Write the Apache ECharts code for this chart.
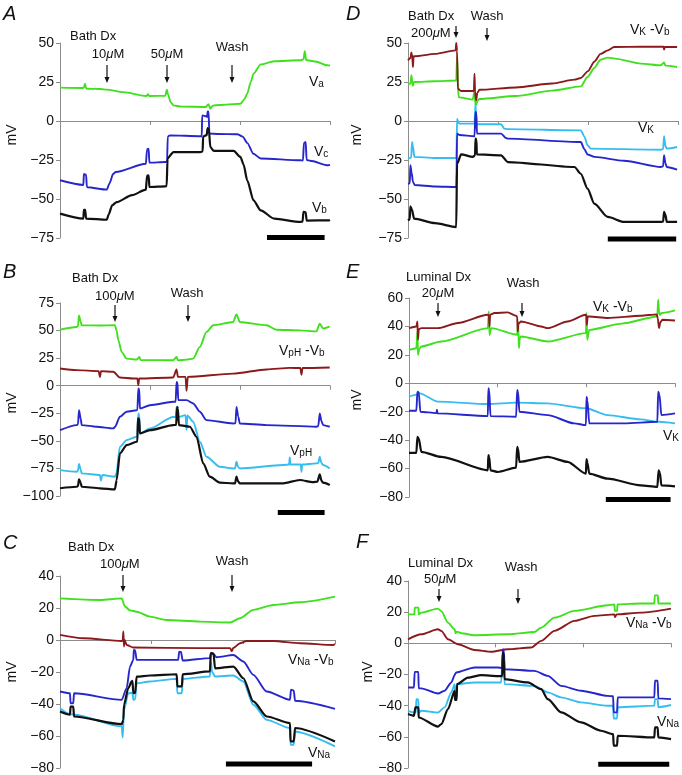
<!DOCTYPE html>
<html><head><meta charset="utf-8">
<script src="https://cdn.jsdelivr.net/npm/echarts@6/dist/echarts.min.js"></script>
<style>html,body{margin:0;padding:0;background:#fff}#c{width:682px;height:775px}</style>
</head><body><div id="c"></div>
<script>
// ---------- Panel A ----------
const A_Va = [[0,21.4],[2.5,21.2],[2.65,21.4],[2.78,23.9],[2.9,21],[3.0,20.7],[4.5,20.5],[5.2,20.1],[7,18.5],[9.6,16.0],[9.77,17.1],[9.9,16],[11.7,16.2],[11.88,20.1],[12.0,17],[12.3,12],[12.6,10],[13.5,9.2],[16.2,9.0],[16.5,10.7],[16.7,7.9],[16.9,9.5],[17.1,10],[18.5,10.5],[20.05,11.1],[20.5,14],[20.8,17.5],[21.2,25],[21.5,30.3],[22.3,36.3],[23.8,38.3],[26.7,38.9],[27.05,39.5],[27.2,44.7],[27.35,39],[27.5,38.9],[28.5,38],[29.7,35.7],[30,35.5]];
const A_Vc = [[0,-38],[2.6,-41],[2.65,-34],[2.9,-34.5],[2.98,-42],[3.04,-42.5],[5.2,-44],[5.5,-40],[5.9,-34],[6.2,-32.7],[9.55,-27.4],[9.6,-27.3],[9.67,-18],[9.85,-17.7],[9.93,-26.7],[11.7,-26.3],[11.9,-26],[11.97,-10],[12.2,-9.2],[15.6,-9.8],[15.75,-9.9],[15.8,3.6],[16.3,3.0],[16.35,2.5],[16.4,6.2],[16.5,6.2],[16.6,-8.1],[17.5,-8.3],[19.7,-8.5],[20.3,-10],[20.8,-14],[21.5,-21],[22.3,-24],[26.7,-25.2],[27.0,-25.3],[27.1,-14],[27.3,-13.5],[27.4,-25],[27.8,-25.5],[29.8,-28.4],[30,-28]];
const A_Vb = [[0,-59.4],[2.6,-62.6],[2.65,-57],[2.8,-57],[2.9,-62.6],[5.2,-63.3],[5.4,-60],[5.8,-54],[6.3,-52],[8,-47.5],[9.55,-44],[9.6,-44],[9.67,-35],[9.85,-34.8],[9.93,-42.3],[11.7,-41.9],[11.85,-41.8],[11.95,-24],[12.6,-19.9],[15.6,-19.9],[15.85,-19.5],[15.9,-10],[16.3,-9],[16.4,-4.5],[16.55,-6],[16.7,-16.7],[17.1,-19.2],[19.3,-19.2],[20.05,-23],[20.4,-28],[20.8,-38],[21.5,-50.9],[22.3,-57.3],[23.8,-62.6],[26.7,-64.7],[26.95,-64.5],[27.05,-58.3],[27.3,-58.5],[27.4,-63.8],[29.9,-63.7],[30,-63.5]];
const A_bar = [[23,-74.6],[29.4,-74.6]];
// ---------- Panel D ----------
const D_VKVb = [[0,38.9],[0.3,40.5],[0.37,44],[0.48,41],[0.55,34.6],[0.62,41.5],[0.74,41.5],[3,43],[5.3,45.3],[5.36,50],[5.45,45],[5.54,20.7],[5.91,19.2],[7.32,19.2],[7.39,30.3],[7.45,19],[7.57,13.2],[7.7,18],[7.94,20],[12,21.5],[16,24],[18.5,26.5],[19.2,27.6],[20,32],[20.7,38],[21.4,43],[22.2,45.3],[22.9,47.4],[26,47.6],[28.4,47.6],[28.45,45.8],[28.55,47.4],[29.9,47.4]];
const D_green = [[0,23.9],[0.3,24],[0.37,29.3],[0.48,25],[0.55,22.5],[0.65,25],[0.74,25],[3,25.5],[5.36,26],[5.45,41],[5.54,25],[5.62,15.4],[5.9,15],[7.2,13.7],[7.39,19.5],[7.5,10],[7.57,10.5],[7.76,13.2],[7.94,14.1],[12,16],[16,19.5],[19.2,22.2],[19.95,28.2],[20.7,34],[21.4,39.3],[22.2,40.6],[23,40],[25.9,36.8],[28.1,35.7],[28.45,37.5],[28.6,35.5],[29.9,34.6]];
const D_VK = [[0,-24.1],[0.35,-23.5],[0.45,-13.5],[0.55,-16],[0.7,-23],[3,-23.7],[5.38,-23.7],[5.45,1.5],[5.6,-1],[5.73,-1.7],[7.39,-1.7],[7.5,11],[7.6,-2],[7.76,-2.1],[10.35,-2.1],[10.7,-4.9],[11.09,-5.2],[19.2,-6],[19.6,-10],[19.95,-15.5],[20.3,-17.7],[28.1,-18.4],[28.35,-18],[28.45,-9.8],[28.6,-16],[28.75,-17.7],[29.9,-16.7]];
const D_blue = [[0,-40.2],[0.2,-40],[0.26,-28.4],[0.4,-33],[0.55,-39],[0.74,-41],[3,-42],[5.38,-42.3],[5.45,-8.1],[5.73,-9],[7.39,-9.8],[7.5,5.8],[7.6,5],[7.66,-8.1],[10.35,-8.1],[10.9,-10.9],[11.09,-11.3],[19.2,-13.5],[19.6,-18],[19.95,-21.5],[20.7,-23],[24,-25.5],[28.1,-29.5],[28.35,-29],[28.45,-22],[28.6,-27],[28.75,-29.5],[29.9,-31.2]];
const D_Vb = [[0,-63.7],[0.2,-63],[0.26,-54.7],[0.45,-57],[0.67,-62.6],[3,-65.5],[5.36,-68],[5.45,-27.4],[5.91,-21.4],[7.2,-23],[7.45,-22],[7.5,-11.3],[7.6,-12],[7.65,-21.4],[10.35,-22],[11.09,-26.3],[18.5,-29.5],[19.2,-33.8],[19.95,-43.4],[20.7,-53],[22.2,-61.5],[24,-64.7],[28.1,-64.7],[28.35,-64.5],[28.45,-58.3],[28.6,-60],[28.75,-64.7],[29.9,-64.7]];
const D_bar = [[22.2,-75.6],[29.8,-75.6]];
// ---------- Panel B ----------
const B_green = [[0,50.8],[1.85,53.3],[2.0,54],[2.11,63.8],[2.3,58],[2.41,54.8],[4.44,54.6],[6.1,54.8],[6.29,50],[6.48,41.2],[6.85,30.7],[7.4,24.6],[8.51,23.7],[8.81,26],[8.95,23.3],[12.58,23.1],[12.95,26],[13.1,23],[14.06,23.7],[14.8,24.6],[15.54,35.2],[16.28,48.8],[17.02,54.8],[19.24,57.8],[19.61,64.7],[19.98,57.8],[22.94,54.8],[24.05,50.8],[26.64,50.2],[28.49,49.3],[28.86,56.3],[29.23,52],[29.97,53.9]];
const B_VpHVb = [[0,15.6],[1.85,14.1],[4.3,13.2],[4.44,8],[4.55,13.2],[5.92,12.6],[6.66,7.4],[8.14,6.5],[8.6,6.5],[8.7,0.5],[8.8,6.5],[12.58,7.5],[12.95,14.7],[13.1,8],[13.95,8],[14.06,-4.6],[14.2,8],[19.24,11],[22.94,14.7],[25.53,16.2],[26.7,16],[26.83,10],[26.95,16],[29.97,16.5]];
const B_blue = [[0,-40.3],[1.85,-35.7],[2.0,-35],[2.11,-22.2],[2.3,-30],[2.41,-35.7],[4.07,-37.2],[5.92,-38.7],[6.1,-37.5],[6.66,-28.2],[7.4,-23.6],[8.51,-22.2],[8.6,-22],[8.7,-2.5],[8.8,-3],[8.88,-20.7],[9.99,-17.7],[12.58,-14.6],[12.85,-14.5],[12.95,3.5],[13.05,3],[13.14,-13.1],[14.06,-13.1],[14.8,-16.1],[15.54,-23.6],[16.28,-31.2],[19.24,-34.2],[19.5,-34],[19.61,-19.2],[19.8,-28],[19.98,-34.2],[22.94,-35.7],[28.49,-37.2],[28.7,-36.5],[28.86,-25.2],[29.05,-32],[29.23,-35.7],[29.97,-37.2]];
const B_VpH = [[0,-76.5],[1.85,-78],[2.0,-77],[2.11,-71],[2.3,-76],[2.41,-79.5],[4.44,-81],[4.55,-86],[4.7,-81],[6.1,-82.5],[6.25,-80],[6.66,-55.4],[7.4,-49.3],[8.51,-46.3],[8.6,-46],[8.7,-25.2],[8.8,-26],[8.88,-43.3],[9.99,-38.7],[12.58,-28.4],[12.85,-28.3],[12.95,-19.2],[13.05,-22],[13.14,-28.4],[13.95,-26.7],[14.06,-40],[14.15,-27],[14.8,-32.7],[15.54,-50.8],[16.28,-64.4],[17.76,-73.5],[19.24,-75],[19.45,-75],[19.61,-69],[19.8,-74],[19.98,-75],[24.79,-71.9],[25.45,-71.5],[25.53,-65],[25.6,-71.5],[26.75,-71.5],[26.83,-78],[26.9,-71.5],[28.49,-70.4],[28.7,-70],[28.86,-64.4],[29.05,-70],[29.23,-71.9],[29.97,-75]];
const B_Vb = [[0,-93],[1.85,-91.6],[2.0,-91],[2.11,-84.9],[2.3,-88],[2.41,-91.6],[4.44,-93],[6.1,-94],[6.29,-85.5],[6.66,-61.4],[7.4,-53.8],[8.51,-50.8],[8.6,-50.5],[8.65,-29.7],[8.8,-30],[8.88,-43.3],[9.99,-40.3],[12.58,-35.7],[12.9,-35.5],[13.02,-19.2],[13.1,-21],[13.21,-35.7],[14.43,-37.2],[15.17,-46.3],[15.91,-70.4],[16.65,-82.5],[17.76,-87.9],[19.24,-88.5],[19.45,-88.5],[19.61,-82.5],[19.8,-87],[19.98,-88.5],[24.79,-88.5],[26.64,-85.5],[28.12,-87.5],[28.6,-87],[28.86,-80.4],[29.05,-86],[29.23,-87.9],[29.97,-90]];
const B_bar = [[24.2,-115],[29.4,-115]];
// ---------- Panel E ----------
const E_VKVb = [[0,38.8],[0.83,40],[0.95,43.5],[1.01,30.6],[1.1,38],[1.39,38.8],[3.26,38.8],[5.51,42.4],[8.89,48.2],[9.0,48],[9.08,40],[9.15,48.2],[9.64,49.4],[11.14,49.9],[12.08,47.5],[12.2,47],[12.26,36.5],[12.35,42],[12.64,43.5],[14.89,40],[15.64,38.8],[17.89,43.5],[19.95,48.2],[20.0,47],[20.06,41],[20.15,47],[20.33,47],[22.39,45.9],[26.14,47.5],[27.94,48.5],[28.05,46],[28.2,38.8],[28.35,43],[28.58,44.7],[30,44.2]];
const E_green = [[0,23.5],[0.83,24.7],[0.95,36.5],[1.01,20],[1.15,24],[1.39,25.9],[3.64,29.4],[8.89,38.8],[9.0,50.6],[9.08,34],[9.26,38.8],[12.2,34.1],[12.3,43.5],[12.4,24.7],[12.5,32],[12.64,32.9],[15.64,29.4],[19.95,35.3],[20.02,49.4],[20.1,30.6],[20.33,37.6],[24,42],[28.01,47],[28.1,58.8],[28.2,50],[28.3,48],[28.46,49.4],[30,51.3]];
const E_VK = [[0,-9.4],[0.9,-8],[1.01,-6],[1.2,-7.1],[3.26,-12.9],[8.89,-14.6],[12.08,-13.6],[15.64,-14.1],[19.95,-17.6],[22.39,-22.4],[26.14,-25.4],[28.2,-27.1],[30,-28.2]];
const E_blue = [[0,-19.3],[0.83,-19.3],[0.95,-6],[1.1,-6.5],[1.28,-20],[3.1,-21],[3.15,-18.5],[3.22,-21.2],[8.89,-23.1],[8.95,-3.5],[9.05,-5],[9.19,-23.1],[12.08,-23.5],[12.2,-4.7],[12.3,-6],[12.45,-20],[15.64,-22.4],[18.64,-28.2],[19.95,-29.4],[20.02,-9.4],[20.12,-12],[20.33,-28.2],[24.26,-28.2],[28.01,-27.1],[28.1,-5.9],[28.25,-8],[28.46,-22.4],[30,-21.2]];
const E_Vb = [[0,-48.9],[0.83,-48.9],[0.95,-37.6],[1.1,-39],[1.39,-48.2],[3.64,-51.8],[8.89,-61.2],[8.95,-50.6],[9.05,-52],[9.19,-61.2],[10.01,-62.4],[12.08,-59.3],[12.2,-44.7],[12.3,-46],[12.45,-55.3],[15.64,-51.8],[17.89,-55.3],[19.95,-63.5],[20.02,-53.4],[20.12,-56],[20.33,-63.5],[22.39,-67.1],[26.14,-71.8],[28.01,-72.9],[28.15,-61.2],[28.3,-63],[28.46,-71.8],[30,-72.5]];
const E_bar = [[22.2,-81.7],[29.5,-81.7]];
// ---------- Panel C ----------
const C_green = [[0,26],[4.36,25],[6.73,26],[7.09,20.9],[7.64,18.5],[8.36,17.7],[9.82,14.6],[11.64,12.5],[15.27,11.5],[18.55,10.9],[19.64,13.6],[21.09,18.8],[23.27,21.9],[26.18,23.6],[30,27.1]];
const C_VNaVb = [[0,3.2],[2.55,1.1],[6.73,-0.6],[6.84,-0.5],[6.91,5.3],[6.98,-4.1],[7.05,0],[7.27,-3.1],[8.0,-4.7],[15.27,-5.1],[18.55,-5.1],[18.73,-7],[18.9,-5],[19.64,-2],[20.36,-0.6],[23.27,-0.6],[26.18,-2],[29.82,-3.1],[30,-2.5]];
const C_blue = [[0,-32.2],[1.09,-33.3],[1.15,-39.5],[1.45,-39.5],[1.53,-33.3],[6.73,-37.4],[7.27,-30.1],[7.64,-16.6],[8.0,-12.4],[8.05,-6.2],[8.2,-6.5],[8.36,-12.4],[12.9,-12.4],[13.0,-7.3],[13.2,-7.5],[13.38,-12.8],[16.36,-11.3],[16.45,-8.2],[16.7,-8.5],[17.09,-10.8],[18.91,-9.4],[20.0,-13.4],[21.09,-21.8],[22.55,-32.2],[25.09,-37.4],[25.2,-31.1],[25.5,-31.5],[25.64,-38],[30,-43]];
const C_VNa = [[0,-42.6],[1.09,-46.3],[1.53,-46.7],[6.73,-54],[6.84,-60.9],[6.98,-43.7],[7.45,-33.3],[7.9,-33],[8.0,-37.4],[8.2,-37],[8.36,-27],[9.82,-25.9],[12.73,-24.3],[12.8,-33.3],[13.3,-33.3],[13.38,-24.3],[16.36,-22.8],[16.45,-13.5],[16.6,-20],[16.91,-22.8],[18.91,-22.2],[20.0,-25.9],[21.09,-40.5],[22.55,-49.9],[25.09,-55.1],[25.15,-65.5],[25.5,-65.5],[25.64,-57.2],[30,-66.5]];
const C_Vb = [[0,-44.7],[1.09,-46.7],[1.15,-41.6],[1.45,-41.6],[1.53,-47.8],[6.73,-52.6],[6.91,-50],[6.98,-40.5],[7.45,-30.1],[7.82,-25.9],[7.9,-25.5],[8.0,-33.3],[8.2,-33],[8.36,-22.9],[9.82,-22.2],[12.73,-21.4],[12.8,-29],[13.3,-29],[13.38,-21.4],[16.36,-19.6],[16.45,-8.2],[16.75,-8.5],[16.91,-17.7],[18.91,-16.6],[20.0,-23.9],[21.09,-38.4],[22.55,-47.8],[25.09,-52],[25.15,-63.4],[25.5,-63.4],[25.64,-55],[30,-63.4]];
const C_bar = [[18.1,-77.5],[27.5,-77.5]];
// ---------- Panel F ----------
const F_green = [[0,18.6],[0.74,18.6],[0.76,22.9],[1.2,22.9],[1.22,18.6],[1.52,19.7],[3.42,22.3],[3.8,20.7],[4.56,13.3],[5.32,9],[5.43,6.5],[5.55,7.5],[6.08,6.5],[7.59,5.2],[11.39,5.8],[14.43,7.3],[15.19,10.1],[16.71,16.5],[18.99,20.8],[22.78,24.4],[23.54,25],[23.6,20.8],[23.85,20.8],[23.9,25],[26.58,25.6],[28.1,25.6],[28.15,30.8],[28.5,30.8],[28.55,25.6],[30,25.6]];
const F_VNaVb = [[0,2.6],[1.52,5.8],[3.42,9],[3.8,8],[4.56,2.6],[5.7,-0.6],[7.59,-4.3],[9.49,-5.4],[11.39,-3.8],[14.05,-2.7],[15.19,1.6],[16.71,8],[18.99,14.4],[21.26,17.6],[23.54,18.6],[23.62,16.8],[23.8,18.6],[26.58,19.7],[30,22.3]];
const F_blue = [[0,-28.3],[0.68,-28.3],[0.76,-18.3],[1.18,-18.3],[1.22,-28.9],[1.52,-28.9],[3.42,-32.2],[4.18,-30.4],[4.94,-25.1],[5.32,-20.4],[5.4,-19.5],[5.51,-18.7],[7.59,-15.5],[10.25,-15.5],[10.75,-15.8],[10.82,-3.8],[10.95,-5],[11.01,-16.6],[14.43,-17.7],[15.95,-20.9],[17.47,-27.3],[19.74,-30.4],[22.78,-33.7],[23.4,-34],[23.46,-44.3],[23.85,-44.3],[23.92,-34.7],[28.1,-34.7],[28.17,-24],[28.48,-24],[28.55,-35.3],[30,-35.8]];
const F_VNa = [[0,-43.3],[0.76,-44.4],[0.9,-44.2],[0.95,-35.8],[1.18,-36],[1.22,-44.4],[1.52,-43.3],[3.42,-44.4],[4.18,-41.1],[4.94,-31.5],[5.32,-26.2],[5.43,-36.3],[5.55,-26.2],[7.59,-25.1],[10.63,-25.1],[10.82,-5.9],[10.92,-8],[11.01,-26.2],[14.43,-27.3],[15.95,-31.5],[17.47,-34.7],[19.74,-37.9],[22.78,-40.1],[23.4,-40.1],[23.46,-48.2],[23.85,-48.2],[23.92,-41],[28.1,-40],[28.17,-35.8],[28.48,-35.8],[28.55,-41],[30,-39.6]];
const F_Vb = [[0,-45.4],[0.68,-46.5],[0.84,-41.1],[1.18,-41.1],[1.22,-47.6],[3.42,-53.4],[3.8,-51.8],[4.56,-42.2],[5.32,-30.5],[5.36,-36.3],[5.55,-36.3],[5.6,-26.2],[6.83,-22],[8.35,-20.4],[10.25,-21],[10.75,-21],[10.82,-5.9],[10.95,-10],[11.01,-23],[13.67,-25.1],[15.19,-29.4],[15.95,-35.8],[17.47,-44.3],[19.74,-50.7],[22.02,-56.1],[23.4,-58.3],[23.46,-65.7],[23.85,-65.7],[23.92,-59.3],[28.1,-60.4],[28.17,-53.9],[28.48,-53.9],[28.55,-60.4],[30,-61.5]];
const F_bar = [[21.7,-77.6],[29.8,-77.6]];

// ---------- styling ----------
const GREEN='#3fe01e', BLUE='#2626cc', LBLUE='#36bdf0', BLACK='#111111', DRED='#8a1a1c';
const FONT='"Liberation Sans", Arial, Helvetica, sans-serif';
const AXC='#8c8c8c';

const panels = [
  {grid:{left:60,top:43,width:270,height:195}, y:[-75,50,25], s:[[A_Va,GREEN],[A_Vc,BLUE],[A_Vb,BLACK]], bar:A_bar},
  {grid:{left:408,top:43,width:270,height:195}, y:[-75,50,25], s:[[D_green,GREEN],[D_VKVb,DRED],[D_VK,LBLUE],[D_blue,BLUE],[D_Vb,BLACK]], bar:D_bar},
  {grid:{left:60,top:303,width:270,height:193}, y:[-100,75,25], s:[[B_green,GREEN],[B_VpHVb,DRED],[B_blue,BLUE],[B_VpH,LBLUE],[B_Vb,BLACK]], bar:B_bar},
  {grid:{left:409,top:298,width:266,height:199}, y:[-80,60,20], s:[[E_green,GREEN],[E_VKVb,DRED],[E_VK,LBLUE],[E_blue,BLUE],[E_Vb,BLACK]], bar:E_bar},
  {grid:{left:60,top:576,width:275,height:192}, y:[-80,40,20], s:[[C_green,GREEN],[C_VNaVb,DRED],[C_VNa,LBLUE],[C_blue,BLUE],[C_Vb,BLACK]], bar:C_bar},
  {grid:{left:408,top:581,width:263,height:187}, y:[-80,40,20], s:[[F_green,GREEN],[F_VNaVb,DRED],[F_VNa,LBLUE],[F_blue,BLUE],[F_Vb,BLACK]], bar:F_bar}
];

const grids=[], xAxes=[], yAxes=[], series=[];
panels.forEach((p,i)=>{
  grids.push(Object.assign({containLabel:false}, p.grid));
  xAxes.push({gridIndex:i, type:'value', min:0, max:30, interval:10,
    axisLine:{show:true,onZero:true,lineStyle:{color:AXC,width:1}},
    axisTick:{show:true,length:4,lineStyle:{color:AXC}},
    axisLabel:{show:false}, splitLine:{show:false}});
  yAxes.push({gridIndex:i, type:'value', min:p.y[0], max:p.y[1], interval:p.y[2],
    axisLine:{show:true,onZero:false,lineStyle:{color:AXC,width:1}},
    axisTick:{show:true,length:4,lineStyle:{color:AXC}},
    axisLabel:{color:'#111',fontSize:14,fontFamily:FONT,margin:6,formatter:v=>String(v).replace('-','\u2212')},
    splitLine:{show:false}});
  p.s.forEach(([d,c])=>{
    series.push({type:'line', xAxisIndex:i, yAxisIndex:i, data:d, showSymbol:false, symbol:'none',
      smooth:0.25, smoothMonotone:'x',
      lineStyle:{color:c,width:c===BLACK?2.2:1.9,join:'round'}, silent:true, animation:false});
  });
  series.push({type:'line', xAxisIndex:i, yAxisIndex:i, data:p.bar, showSymbol:false, symbol:'none', clip:false,
    lineStyle:{color:'#000',width:5,cap:'butt'}, silent:true, animation:false});
});

// ---------- annotations (pixel layout) ----------
const rich = {
  v:{fontSize:14,fontFamily:FONT,fill:'#111',color:'#111',lineHeight:14,verticalAlign:'top'},
  s:{fontSize:10,fontFamily:FONT,fill:'#111',color:'#111',lineHeight:10,padding:[8,0,0,0],verticalAlign:'bottom'},
  t:{fontSize:13,fontFamily:FONT,color:'#111'},
  m:{fontSize:13,fontFamily:FONT,fontStyle:'italic',color:'#111'}
};
const G=[];
function txt(x,y,text,opt){opt=opt||{};G.push({type:'text',x:x,y:y,silent:true,rotation:opt.rot||0,
  style:{text:text,fill:'#111',font:(opt.font||('13px '+FONT)),align:opt.align||'left',verticalAlign:'middle',rich:rich}});}
function arrow(x,y1,y2){
  G.push({type:'line',silent:true,shape:{x1:x,y1:y1,x2:x,y2:y2-5},style:{stroke:'#111',lineWidth:1.2}});
  G.push({type:'polygon',silent:true,shape:{points:[[x-2.5,y2-6],[x+2.5,y2-6],[x,y2]]},style:{fill:'#111'}});
}
function mu(n){return '{t|'+n+'}{m|\u03bc}{t|M}';}
function letter(x,y,l){txt(x,y,l,{font:'italic 20px '+FONT});}
function mv(x,y){txt(x,y,'mV',{rot:Math.PI/2,align:'center',font:'14px '+FONT});}
// A
letter(3,14,'A'); mv(12,135);
txt(70,36,'Bath Dx'); txt(108,54,mu('10'),{align:'center'}); txt(167,54,mu('50'),{align:'center'}); txt(232,47,'Wash',{align:'center'});
arrow(107,65,83); arrow(167,65,83); arrow(232,65,83);
txt(309,82,'{v|V}{s|a}'); txt(314,152,'{v|V}{s|c}'); txt(312,208,'{v|V}{s|b}');
// D
letter(346,14,'D'); mv(357,135);
txt(408,16,'Bath Dx'); txt(411,33,mu('200')); txt(487,16,'Wash',{align:'center'});
arrow(456,26,38); arrow(487,28,41);
txt(630,30,'{v|V}{s|K}{v| -V}{s|b}'); txt(638,128,'{v|V}{s|K}');
// B
letter(3,272,'B'); mv(12,403);
txt(72,278,'Bath Dx'); txt(95,296,mu('100')); txt(187,293,'Wash',{align:'center'});
arrow(115,305,322); arrow(188,305,322);
txt(279,351,'{v|V}{s|pH}{v| -V}{s|b}'); txt(290,451,'{v|V}{s|pH}');
// E
letter(346,272,'E'); mv(357,400);
txt(406,277,'Luminal Dx'); txt(438,293,mu('20'),{align:'center'}); txt(523,283,'Wash',{align:'center'});
arrow(438,303,317); arrow(522,303,317);
txt(593,307,'{v|V}{s|K}{v| -V}{s|b}'); txt(663,436,'{v|V}{s|K}');
// C
letter(3,543,'C'); mv(12,672);
txt(68,547,'Bath Dx'); txt(100,564,mu('100')); txt(232,561,'Wash',{align:'center'});
arrow(123,575,592); arrow(232,575,592);
txt(288,660,'{v|V}{s|Na}{v| -V}{s|b}'); txt(308,753,'{v|V}{s|Na}');
// F
letter(356,542,'F'); mv(368,672);
txt(408,563,'Luminal Dx'); txt(424,579,mu('50')); txt(521,567,'Wash',{align:'center'});
arrow(439,589,602); arrow(518,589,604);
txt(626,623,'{v|V}{s|Na}{v| -V}{s|b}'); txt(657,722,'{v|V}{s|Na}');

const chart = echarts.init(document.getElementById('c'), null, {renderer:'canvas'});
chart.setOption({animation:false, backgroundColor:'#fff', grid:grids, xAxis:xAxes, yAxis:yAxes, series:series, graphic:G});
</script></body></html>
